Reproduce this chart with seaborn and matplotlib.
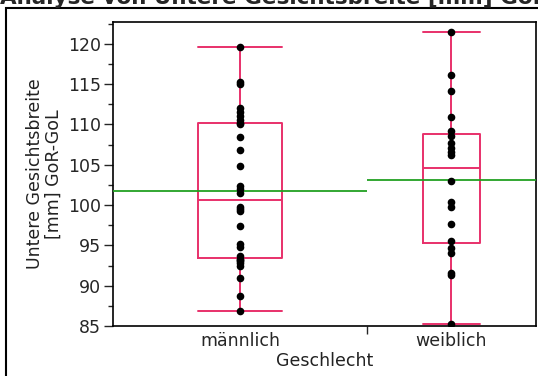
import numpy as np
import pandas as pd
import seaborn as sns
import matplotlib.pyplot as plt
from matplotlib.patches import Rectangle
from matplotlib.ticker import MultipleLocator

# Values (mm)
maennlich = [86.9, 88.7, 91.0, 92.4, 92.8, 93.0, 93.2, 93.3, 93.7, 94.8,
             95.2, 97.4, 99.2, 99.5, 99.7, 101.5, 102.0, 102.4, 104.9, 106.8,
             108.4, 110.0, 110.2, 110.5, 111.0, 111.5, 112.0, 115.0, 115.3, 119.6]
weiblich = [85.2, 91.3, 91.6, 94.1, 94.7, 95.5, 97.7, 99.7, 100.4, 103.0,
            106.2, 106.6, 107.1, 107.7, 108.6, 109.2, 110.9, 114.2, 116.1, 121.4]
gruppen = ["männlich", "weiblich"]

title = "Analyse von Untere Gesichtsbreite [mm] GoR-GoL nach Geschlecht"
ylabel = "Untere Gesichtsbreite\n[mm] GoR-GoL"
xlabel = "Geschlecht"

pink = "#e8306a"
green = "#22a022"
fs = 12.5

# JMP style: each group gets a share of the x axis proportional to its size
werte = {"männlich": maennlich, "weiblich": weiblich}
counts = [len(werte[g]) for g in gruppen]
edges = np.concatenate([[0], np.cumsum(counts)])
centers = (edges[:-1] + edges[1:]) / 2

df = pd.concat([pd.DataFrame({"Geschlecht": g, "pos": c, "wert": werte[g]})
                for g, c in zip(gruppen, centers)], ignore_index=True)

sns.set_style("white")
plt.rcParams["font.family"] = ["DejaVu Sans"]

fig = plt.figure(figsize=(5.38, 3.76), dpi=100)
ax = fig.add_axes([113 / 538, 50 / 376, 423 / 538, 304 / 376])

for g, n in zip(gruppen, counts):
    sub = df[df["Geschlecht"] == g]
    sns.boxplot(data=sub, x="pos", y="wert", native_scale=True, fill=False,
                width=n / 3, capwidths=n / 3, whis=(0, 100), color=pink,
                linecolor=pink, linewidth=1.4, showfliers=False, ax=ax)

sns.stripplot(data=df, x="pos", y="wert", native_scale=True, jitter=False,
              color="black", size=5.5, linewidth=0, ax=ax, zorder=5)

# group means
for g, lo, hi in zip(gruppen, edges[:-1], edges[1:]):
    m = np.mean(werte[g])
    ax.hlines(m, lo, hi, color=green, linewidth=1.3, zorder=3)

ax.set_xlim(edges[0], edges[-1])
ax.set_ylim(85, 122.7)
ax.yaxis.set_major_locator(MultipleLocator(5))
ax.yaxis.set_minor_locator(MultipleLocator(2.5))
ax.tick_params(axis="y", which="major", direction="out", length=6.5, width=1,
               labelsize=fs, pad=2, left=True)
ax.tick_params(axis="y", which="minor", direction="out", length=3.5, width=1,
               left=True)

ax.set_xticks(centers)
ax.set_xticklabels(gruppen)
ax.set_xticks(edges[1:-1], minor=True)
ax.tick_params(axis="x", which="major", length=0, labelsize=fs, pad=4)
ax.tick_params(axis="x", which="minor", direction="out", length=6, width=1,
               bottom=True)

for s in ax.spines.values():
    s.set_color("black")
    s.set_linewidth(1.2)

ax.set_ylabel(ylabel, fontsize=fs, color="#222222", labelpad=4,
              linespacing=1.05)
ax.set_xlabel(xlabel, fontsize=fs, color="#222222", labelpad=2)

# outer frame and cut-off title
fig.patches.append(Rectangle((6 / 538, -0.2), 2, 1.2 - 8 / 376,
                             transform=fig.transFigure, fill=False,
                             edgecolor="black", linewidth=1.5))
fig.text(0.0, 1 - 4 / 376, title, fontsize=15.5, fontweight="bold",
         va="baseline", ha="left")

fig.savefig("out.png", dpi=100)
